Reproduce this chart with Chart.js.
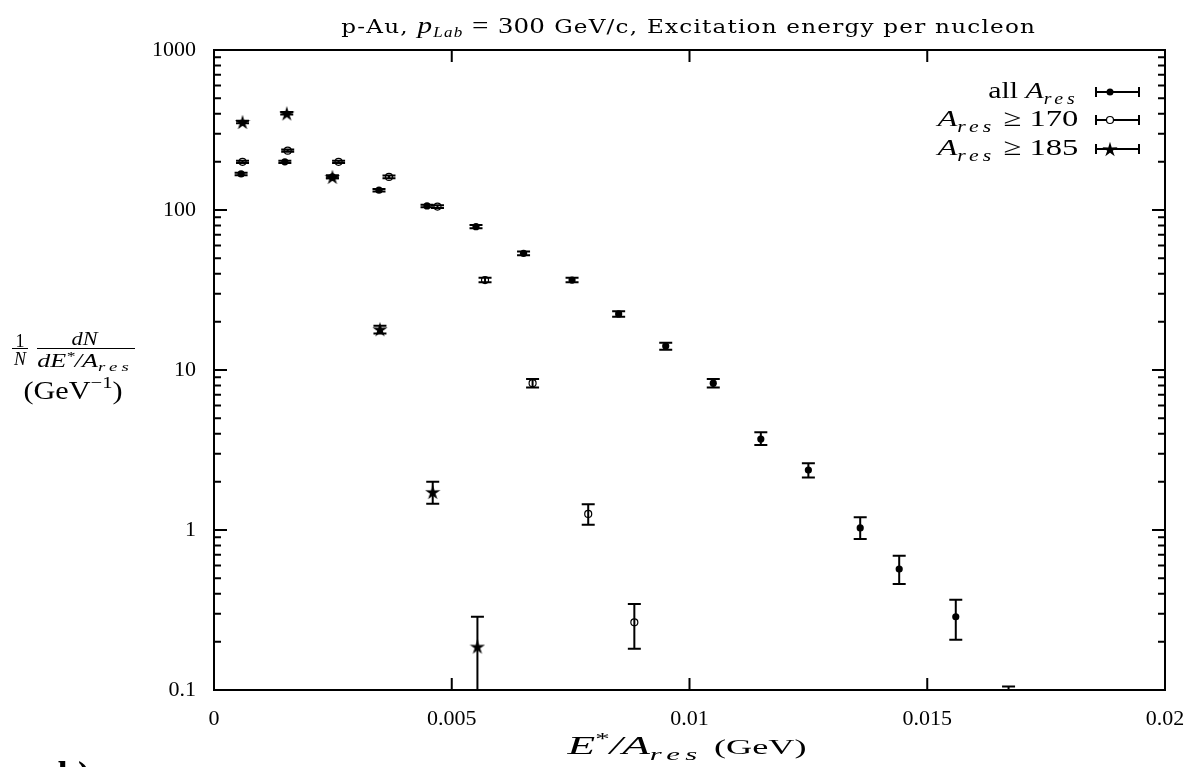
<!DOCTYPE html>
<html>
<head>
<meta charset="utf-8">
<script src="https://cdn.jsdelivr.net/npm/chart.js@4.4.1/dist/chart.umd.min.js"></script>
<style>
  html, body { margin:0; padding:0; background:#fff; }
  #wrap { position:relative; width:1194px; height:767px; overflow:hidden; font-family:"Liberation Serif", "DejaVu Serif", serif; color:#000; }
  canvas { position:absolute; left:0; top:0; }
  .box { position:absolute; white-space:nowrap; line-height:1; text-align:center; }
  .box > .in { display:inline-block; transform-origin:50% 50%; }
  .sp { letter-spacing:1px; }
  #title { font-size:19px; font-family:"DejaVu Serif", serif; }
  #title .m { font-size:24px; font-family:"Liberation Serif", serif; }
  #title sub { font-size:14px; vertical-align:-4px; font-family:"Liberation Serif", serif; }
  .fr { font-style:italic; font-size:18px; }
  .fr sub { font-size:13px; vertical-align:-4px; letter-spacing:3px; }
  .fr sup { font-size:12px; vertical-align:7px; }
  .bar { position:absolute; height:0; border-top:1.6px solid #000; }
  #ylab2 { font-size:25px; }
  #ylab2 sup { font-size:17px; vertical-align:11px; }
  .leg { font-size:24px; }
  .leg sub { font-size:16px; vertical-align:-6px; letter-spacing:3px; }
  #xlab { font-size:25px; }
  #xlab sub { font-size:17px; vertical-align:-6px; letter-spacing:3px; }
  #xlab sup { font-size:16px; vertical-align:10px; }
  #xlab .r { font-size:20px; font-style:normal; }
  #blab { position:absolute; left:58px; top:756px; font-size:36px; font-weight:bold; line-height:1; }
</style>
</head>
<body>
<div id="wrap">
  <canvas id="c" width="1194" height="767"></canvas>
  <div class="box" id="title" style="left:341px; width:695px; top:13px;"><span class="in sp">p-Au, <i class="m">p</i><sub><i>Lab</i></sub> <span class="m">= 300</span> GeV/c, Excitation energy per nucleon</span></div>

  <div class="box fr" data-noscale="1" style="left:12px; width:16px; top:332px; font-style:normal;"><span class="in">1</span></div>
  <div class="bar" style="left:12px; width:16px; top:348px;"></div>
  <div class="box fr" data-noscale="1" style="left:12px; width:16px; top:350px;"><span class="in">N</span></div>
  <div class="box fr" style="left:72px; width:26px; top:330px;"><span class="in">dN</span></div>
  <div class="bar" style="left:37px; width:98px; top:348px;"></div>
  <div class="box fr" style="left:37px; width:96px; top:350px;"><span class="in">dE<sup>*</sup>/A<sub>res</sub></span></div>
  <div class="box" id="ylab2" style="left:23px; width:99px; top:374px;"><span class="in">(GeV<sup>&minus;1</sup>)</span></div>

  <div class="box leg" style="left:988px; width:90px; top:78px;"><span class="in">all <i>A</i><sub><i>res</i></sub></span></div>
  <div class="box leg" style="left:937px; width:141px; top:106px;"><span class="in"><i>A</i><sub><i>res</i></sub> &ge; 170</span></div>
  <div class="box leg" style="left:937px; width:141px; top:135px;"><span class="in"><i>A</i><sub><i>res</i></sub> &ge; 185</span></div>

  <div class="box" id="xlab" style="left:567px; width:239px; top:731px;"><span class="in"><i>E</i><sup>*</sup><i>/A</i><sub><i>res</i></sub> <span class="r">(GeV)</span></span></div>
  <div id="blab">b)</div>
</div>
<script>
// ---------- data ----------
const xTickValues = [0, 0.005, 0.01, 0.015, 0.02];
const xTickLabels = ['0', '0.005', '0.01', '0.015', '0.02'];
const yTickValues = [0.1, 1, 10, 100, 1000];
const yTickLabels = ['0.1', '1', '10', '100', '1000'];

const seriesNames = ['all A_res', 'A_res >= 170', 'A_res >= 185'];

// all A_res (filled circles)
const xAll  = [0.00057, 0.00149, 0.00249, 0.00347, 0.00448, 0.00551, 0.00651, 0.00753, 0.00851, 0.0095, 0.0105, 0.0115, 0.0125, 0.01359, 0.01441, 0.0156, 0.01671];
const yAll  = [168, 200, 161, 133, 106, 78.7, 53.6, 36.5, 22.4, 14.1, 8.27, 3.7, 2.37, 1.03, 0.57, 0.287, 0.08];
const loAll = [3, 3, 3, 2.5, 2, 1.8, 1.5, 1.2, 0.9, 0.7, 0.5, 0.3, 0.24, 0.15, 0.11, 0.081, 0.025];
const hiAll = [3, 3, 3, 2.5, 2, 1.8, 1.5, 1.2, 0.9, 0.7, 0.5, 0.38, 0.24, 0.17, 0.12, 0.08, 0.025];

// A_res >= 170 (open circles)
const x170  = [0.0006, 0.00155, 0.00262, 0.00368, 0.0047, 0.0057, 0.0067, 0.00787, 0.00884];
const y170  = [200, 235, 200, 161, 105, 36.5, 8.27, 1.26, 0.265];
const lo170 = [3, 4, 3, 3, 2, 1.2, 0.5, 0.18, 0.084];
const hi170 = [3, 4, 3, 3, 2, 1.2, 0.5, 0.19, 0.08];

// A_res >= 185 (stars)
const x185  = [0.0006, 0.00153, 0.00249, 0.00349, 0.0046, 0.00554];
const y185  = [355, 402, 161, 18, 1.73, 0.187];
const lo185 = [6, 7, 3, 1.1, 0.27, 0.1];
const hi185 = [6, 7, 3, 0.9, 0.27, 0.1];

// ---------- text fitting: stretch each label to the width it has in the reference ----------
document.querySelectorAll('.box').forEach(box => {
  if (box.dataset.noscale) return;
  const inner = box.querySelector('.in');
  const w0 = inner.getBoundingClientRect().width;
  const target = box.getBoundingClientRect().width;
  if (w0 > 0) inner.style.transform = 'scaleX(' + (target / w0).toFixed(3) + ')';
});

// ---------- star marker ----------
function makeStar(size) {
  const c = document.createElement('canvas');
  c.width = size; c.height = size;
  const g = c.getContext('2d');
  const cx = size / 2, cy = size / 2 + 0.8, R = size / 2, r = size / 5.5;
  g.beginPath();
  for (let i = 0; i < 10; i++) {
    const a = -Math.PI / 2 + i * Math.PI / 5;
    const rad = (i % 2 === 0) ? R : r;
    const px = cx + rad * Math.cos(a), py = cy + rad * Math.sin(a);
    if (i === 0) g.moveTo(px, py); else g.lineTo(px, py);
  }
  g.closePath();
  g.fillStyle = '#000';
  g.fill();
  return c;
}
const starImg = makeStar(16);

function pts(xs, ys) { return xs.map((x, i) => ({ x: x, y: ys[i] })); }

// ---------- plugins ----------
const frame = {
  id: 'frame',
  afterDatasetsDraw(chart) {
    const ctx = chart.ctx, a = chart.chartArea;
    const xs = chart.scales.x, ys = chart.scales.y;
    ctx.save();
    ctx.beginPath();
    ctx.rect(a.left, a.top, a.right - a.left, a.bottom - a.top);
    ctx.clip();
    ctx.strokeStyle = '#000';
    ctx.lineWidth = 2;
    chart.data.datasets.forEach(ds => {
      ds.data.forEach((p, i) => {
        const px = xs.getPixelForValue(p.x);
        const yl = Math.max(p.y - ds.errLo[i], 1e-3);
        const y1 = ys.getPixelForValue(yl);
        const y2 = ys.getPixelForValue(p.y + ds.errHi[i]);
        ctx.beginPath();
        ctx.moveTo(px, y1); ctx.lineTo(px, y2);
        ctx.moveTo(px - 6.5, y1); ctx.lineTo(px + 6.5, y1);
        ctx.moveTo(px - 6.5, y2); ctx.lineTo(px + 6.5, y2);
        ctx.stroke();
      });
    });
    ctx.restore();
  },
  afterDraw(chart) {
    const ctx = chart.ctx, a = chart.chartArea;
    const xs = chart.scales.x, ys = chart.scales.y;
    ctx.save();
    ctx.strokeStyle = '#000';
    ctx.lineWidth = 2;
    ctx.strokeRect(a.left, a.top, a.right - a.left, a.bottom - a.top);
    ctx.beginPath();
    yTickValues.forEach((d, k) => {
      const py = ys.getPixelForValue(d);
      ctx.moveTo(a.left, py); ctx.lineTo(a.left + 13, py);
      ctx.moveTo(a.right, py); ctx.lineTo(a.right - 13, py);
      if (k < yTickValues.length - 1) {
        for (let m = 2; m <= 9; m++) {
          const qy = ys.getPixelForValue(d * m);
          ctx.moveTo(a.left, qy); ctx.lineTo(a.left + 7, qy);
          ctx.moveTo(a.right, qy); ctx.lineTo(a.right - 7, qy);
        }
      }
    });
    xTickValues.forEach(v => {
      const px = xs.getPixelForValue(v);
      ctx.moveTo(px, a.bottom); ctx.lineTo(px, a.bottom - 12);
      ctx.moveTo(px, a.top); ctx.lineTo(px, a.top + 12);
    });
    ctx.stroke();
    // legend samples
    const rows = [92, 120, 149];
    const x0 = 1096, x1 = 1139, xm = 1110;
    rows.forEach((ry, i) => {
      ctx.beginPath();
      ctx.moveTo(x0, ry); ctx.lineTo(x1, ry);
      ctx.moveTo(x0, ry - 5); ctx.lineTo(x0, ry + 5);
      ctx.moveTo(x1, ry - 5); ctx.lineTo(x1, ry + 5);
      ctx.stroke();
      if (i === 0) {
        ctx.beginPath(); ctx.arc(xm, ry, 3.5, 0, Math.PI * 2); ctx.fillStyle = '#000'; ctx.fill();
      } else if (i === 1) {
        ctx.beginPath(); ctx.arc(xm, ry, 3.5, 0, Math.PI * 2); ctx.fillStyle = '#fff'; ctx.fill();
        ctx.lineWidth = 1.2; ctx.stroke(); ctx.lineWidth = 2;
      } else {
        ctx.drawImage(starImg, xm - 8, ry - 8);
      }
    });
    ctx.restore();
  }
};

// ---------- chart ----------
new Chart(document.getElementById('c'), {
  type: 'scatter',
  data: {
    datasets: [
      { label: seriesNames[0], data: pts(xAll, yAll), errLo: loAll, errHi: hiAll,
        pointStyle: 'circle', pointRadius: 3.6, backgroundColor: '#000', borderColor: '#000', borderWidth: 0 },
      { label: seriesNames[1], data: pts(x170, y170), errLo: lo170, errHi: hi170,
        pointStyle: 'circle', pointRadius: 3.5, backgroundColor: '#fff', borderColor: '#000', borderWidth: 1.2 },
      { label: seriesNames[2], data: pts(x185, y185), errLo: lo185, errHi: hi185,
        pointStyle: starImg, pointRadius: 8, backgroundColor: '#000', borderColor: '#000' }
    ]
  },
  options: {
    responsive: false,
    animation: false,
    events: [],
    layout: { padding: { top: 50, right: 29, left: 0, bottom: 0 } },
    plugins: { legend: { display: false }, tooltip: { enabled: false }, title: { display: false } },
    scales: {
      x: {
        type: 'linear', min: 0, max: 0.02,
        grid: { display: false, drawTicks: false },
        border: { display: false },
        afterFit(s) { s.height = 77; s.paddingLeft = 0; s.paddingRight = 0; },
        afterBuildTicks(s) { s.ticks = xTickValues.map(v => ({ value: v })); },
        ticks: {
          autoSkip: false, maxRotation: 0, padding: 16, color: '#000',
          font: { family: '"Liberation Serif", serif', size: 22 },
          callback: (v, i) => xTickLabels[i]
        }
      },
      y: {
        type: 'logarithmic', min: 0.1, max: 1000,
        grid: { display: false, drawTicks: false },
        border: { display: false },
        afterFit(s) { s.width = 214; s.paddingTop = 0; s.paddingBottom = 0; },
        afterBuildTicks(s) { s.ticks = yTickValues.map(v => ({ value: v })); },
        ticks: {
          autoSkip: false, padding: 18, color: '#000',
          font: { family: '"Liberation Serif", serif', size: 22 },
          callback: (v, i) => yTickLabels[i]
        }
      }
    }
  },
  plugins: [frame]
});
</script>
</body>
</html>
